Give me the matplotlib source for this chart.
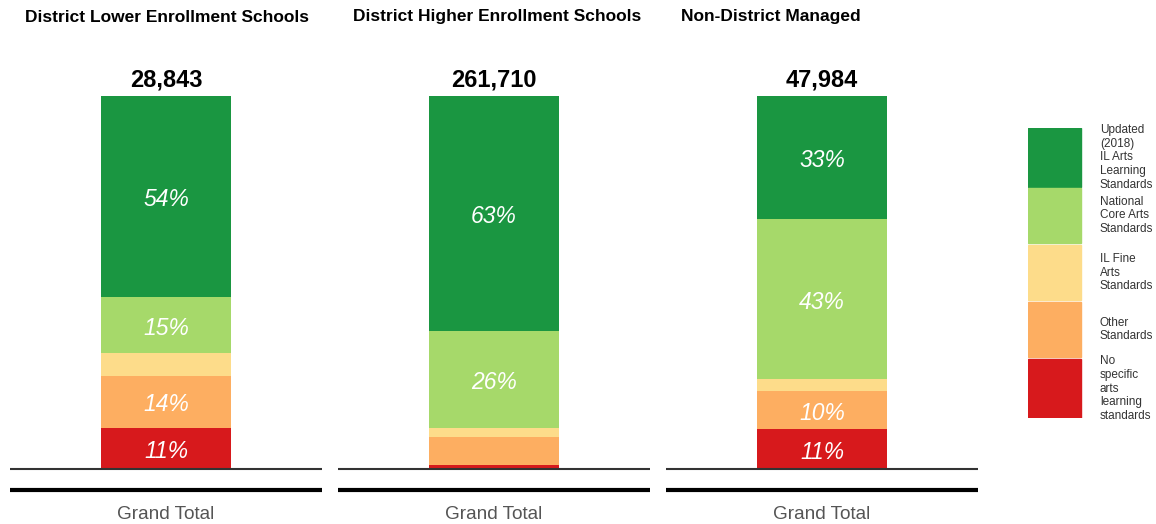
import numpy as np
import matplotlib.pyplot as plt
from matplotlib.patches import Rectangle

plt.rcParams['font.family'] = ['Liberation Sans', 'DejaVu Sans']

panels = ['District Lower Enrollment Schools', 'District Higher Enrollment Schools', 'Non-District Managed']
totals = ['28,843', '261,710', '47,984']
categories = ['Updated\n(2018)\nIL Arts\nLearning\nStandards',
              'National\nCore Arts\nStandards',
              'IL Fine\nArts\nStandards',
              'Other\nStandards',
              'No\nspecific\narts\nlearning\nstandards']
colors = ['#1a9641', '#a6d96a', '#fddc8a', '#fdae61', '#d7191c']

# shares in percent, stacked from the top (updated) down to the bottom (none)
updated = [54, 63, 33]
national = [15, 26, 43]
il_fine = [6, 2.4, 3]
other = [14, 7.5, 10.4]
none = [11, 1.1, 10.6]
series = [updated, national, il_fine, other, none]

W, H = 1156, 524
fig = plt.figure(figsize=(W / 100, H / 100), dpi=100)

lefts = [10, 338, 666]
pw = 312
ybot, ytop = 469, 96

for i, name in enumerate(panels):
    ax = fig.add_axes([lefts[i] / W, (H - ybot) / H, pw / W, (ybot - ytop) / H])
    vals = [s[i] for s in series]
    bottom = 0
    # draw from the bottom segment upward
    for j in range(len(vals) - 1, -1, -1):
        v = vals[j]
        ax.bar(0.5, v, width=0.417, bottom=bottom, color=colors[j], edgecolor='none')
        if v >= 9.5:
            ax.text(0.5, bottom + v / 2 - 0.8, f'{v:.0f}%', ha='center', va='center',
                    color='white', fontsize=16.5, style='italic')
        bottom += v
    ax.set_xlim(0, 1)
    ax.set_ylim(0, 100)
    ax.axis('off')
    ax.plot([0, 1], [0, 0], color='#333333', lw=1.5, solid_capstyle='butt', clip_on=False)
    ax.plot([0, 1], [-0.0563, -0.0563], transform=ax.transAxes, color='black', lw=3,
            solid_capstyle='butt', clip_on=False)
    ax.text(0.5, -0.123, 'Grand Total', transform=ax.transAxes, ha='center', va='center',
            fontsize=13.7, color='#555555')
    ax.text(0.5, bottom + 1.2, totals[i], ha='center', va='bottom', fontsize=17,
            fontweight='bold', color='black')
    fig.text((lefts[i] + 15) / W, (H - 17) / H, name, ha='left', va='center',
             fontsize=12.5, fontweight='bold')

# legend
lax = fig.add_axes([1028 / W, (H - 418) / H, (W - 1028) / W, (418 - 128) / H])
lax.set_xlim(0, W - 1028)
lax.set_ylim(418, 128)
lax.axis('off')
tops = [128, 188, 245, 302, 359]
bots = [187, 243, 300, 357, 418]
for k, lab in enumerate(categories):
    lax.add_patch(Rectangle((0, tops[k]), 53, bots[k] - tops[k], color=colors[k]))
    lax.text(72, (tops[k] + bots[k]) / 2, lab, ha='left', va='center', fontsize=8.5,
             color='#333333', linespacing=1.22)

fig.savefig('out.png', dpi=100)
